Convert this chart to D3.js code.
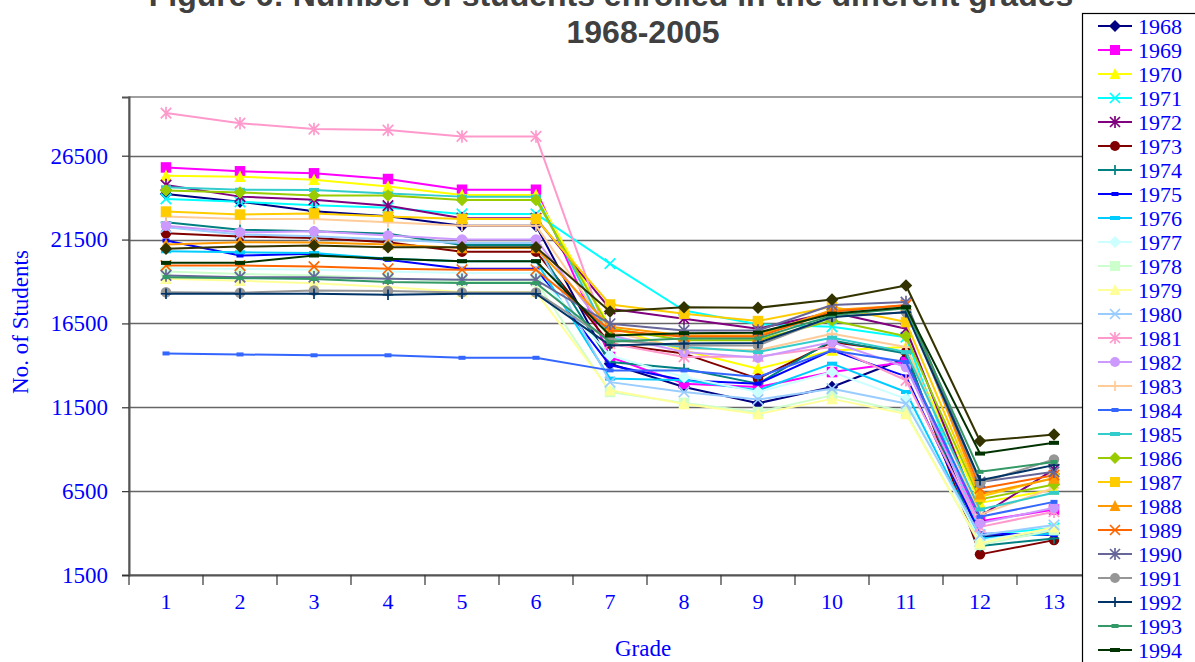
<!DOCTYPE html>
<html><head><meta charset="utf-8">
<script src="https://cdn.jsdelivr.net/npm/d3@7"></script>
<style>
html,body{margin:0;padding:0;background:#fff;overflow:hidden;}
svg{display:block;}
</style></head>
<body>
<svg id="chart" width="1195" height="662"></svg>
<script>
const titleLine1 = "Figure 6: Number of students enrolled in the different grades";
const titleLine2 = "1968-2005";
const grades = [1,2,3,4,5,6,7,8,9,10,11,12,13];
const yTicks = [1500, 6500, 11500, 16500, 21500, 26500];
const years = [1968,1969,1970,1971,1972,1973,1974,1975,1976,1977,1978,1979,1980,1981,1982,1983,1984,1985,1986,1987,1988,1989,1990,1991,1992,1993,1994,1995];
const seriesColors = ["#000080","#FF00FF","#FFFF00","#00FFFF","#800080","#800000","#008080","#0000FF","#00CCFF","#CCFFFF","#CCFFCC","#FFFF99","#99CCFF","#FF99CC","#CC99FF","#FFCC99","#3366FF","#33CCCC","#99CC00","#FFCC00","#FF9900","#FF6600","#666699","#969696","#003366","#339966","#003300","#333300"];
const markerCycle = ["diamond","square","triangle","x","star","circle","plus","dashS","dashL"];

const v1968 = [24220,23760,23190,22890,22330,22330,14100,12710,11740,12710,14420,3780,4000];
const v1969 = [25800,25570,25450,25110,24470,24470,14500,12910,12710,13600,14200,4700,5400];
const v1970 = [25310,25250,25070,24670,24160,24160,16280,14890,13800,14890,15090,5800,6600];
const v1971 = [23920,23750,23550,23400,23030,23030,20070,17270,16450,16300,15680,3900,4300];
const v1972 = [24750,24060,23880,23520,22770,22770,17370,16780,16180,17170,16180,5000,7800];
const v1973 = [21880,21680,21600,21340,20780,20780,15290,14700,13210,15390,14790,2730,3580];
const v1974 = [22530,22080,22000,21840,21180,21180,14200,13800,12910,15490,14700,3230,3680];
const v1975 = [21440,20550,20650,20290,19760,19760,14000,13110,12910,14890,13340,3980,3880];
const v1976 = [20800,20740,20700,20350,20210,20210,13210,13110,12510,14100,12410,3680,3980];
const v1977 = [19800,19750,19700,19600,19500,19500,14590,13300,12410,13600,12000,3550,4250];
const v1978 = [19600,19450,19350,19200,19000,19000,12410,11760,11220,12210,11220,3300,4180];
const v1979 = [19160,19050,18900,18670,18370,18370,12510,11700,11100,12000,11100,3400,4350];
const v1980 = [22230,21800,21700,21500,21300,21300,13000,12410,11960,12610,11720,3880,4480];
const v1981 = [29040,28440,28090,28030,27650,27650,15300,14500,14530,15090,13110,4370,5270];
const v1982 = [22330,21930,21990,21740,21500,21500,15800,14800,14460,15390,13900,4580,5510];
const v1983 = [22870,22730,22730,22530,22330,22330,16000,15000,14900,15890,15090,5100,6700];
const v1984 = [14710,14650,14600,14600,14450,14450,13700,13700,13300,14890,14200,4970,5860];
const v1985 = [24620,24470,24460,24250,24060,24060,15600,15100,14790,15650,14790,5410,6400];
const v1986 = [24420,24310,24120,24120,23860,23860,16200,15500,15500,16680,15730,6010,6900];
const v1987 = [23170,22990,23060,22870,22730,22730,17630,17080,16640,17500,16580,6160,7300];
const v1988 = [21200,21340,21320,21200,21000,21000,16300,15780,15800,17300,17570,6320,7260];
const v1989 = [19950,19950,19890,19760,19700,19700,16100,15700,15700,17200,17600,6660,7450];
const v1990 = [19360,19260,19260,19160,19100,19100,16480,16080,16080,17600,17770,7040,7650];
const v1991 = [18360,18330,18460,18430,18350,18350,15490,15190,15190,16900,17170,6990,8390];
const v1992 = [18270,18270,18270,18210,18270,18270,15190,15300,15330,16880,17170,7150,8050];
const v1993 = [19260,19200,19150,18970,18910,18910,15400,15600,15600,16980,17400,7650,8240];
const v1994 = [20110,20110,20550,20350,20210,20210,15780,15920,15950,17080,17470,8740,9380];
const v1995 = [20950,21080,21140,21040,21040,21040,17210,17470,17430,17930,18760,9490,9870];

const seriesValues = [v1968,v1969,v1970,v1971,v1972,v1973,v1974,v1975,v1976,v1977,v1978,v1979,v1980,v1981,v1982,v1983,v1984,v1985,v1986,v1987,v1988,v1989,v1990,v1991,v1992,v1993,v1994,v1995];

const series = years.map((y,i)=>({year:y, color:seriesColors[i], marker:markerCycle[i%markerCycle.length], values:seriesValues[i]}));

const svg = d3.select("#chart");
const plot = {left:129, right:1091, top:97, bottom:575};

const x = d3.scaleBand().domain(grades).range([plot.left, plot.right]);
const xc = g => x(g) + x.bandwidth()/2;
const y = d3.scaleLinear().domain([1500, 30000]).range([plot.bottom, plot.top]);

const serif = "'Liberation Serif','Times New Roman',Times,serif";
const sans = "'Liberation Sans',Arial,Helvetica,sans-serif";

// plot area border
svg.append("rect").attr("x",plot.left).attr("y",plot.top)
  .attr("width",plot.right-plot.left).attr("height",plot.bottom-plot.top)
  .attr("fill","none").attr("stroke","#808080").attr("stroke-width",1.5);

// gridlines
svg.append("g").selectAll("line").data(yTicks.filter(t=>t>1500)).join("line")
  .attr("x1",plot.left).attr("x2",plot.right)
  .attr("y1",d=>Math.round(y(d))+0.5).attr("y2",d=>Math.round(y(d))+0.5)
  .attr("stroke","#666").attr("stroke-width",1.7);

// y axis
const yAxis = d3.axisLeft(y).tickValues(yTicks).tickSize(7).tickPadding(14).tickFormat(d3.format("d"));
const gy = svg.append("g").attr("transform",`translate(${plot.left},0)`).call(yAxis);
gy.select(".domain").attr("stroke","#555").attr("stroke-width",2);
gy.selectAll(".tick line").attr("stroke","#333").attr("stroke-width",1.2);
gy.selectAll(".tick text").attr("fill","#0000FF").style("font-family",serif).style("font-size","23px");

// x axis
const xAxis = d3.axisBottom(x).tickSize(0).tickPadding(18);
const gx = svg.append("g").attr("transform",`translate(0,${plot.bottom})`).call(xAxis);
gx.select(".domain").attr("stroke","#555").attr("stroke-width",2);
gx.selectAll(".tick text").attr("fill","#0000FF").style("font-family",serif).style("font-size","22px");
gx.append("g").selectAll("line").data(d3.range(grades.length+1)).join("line")
  .attr("x1",i=>plot.left + i*x.step()).attr("x2",i=>plot.left + i*x.step())
  .attr("y1",0).attr("y2",10).attr("stroke","#333").attr("stroke-width",1.2);

// lines
const line = d3.line().x((d,i)=>xc(grades[i])).y(d=>y(d));
const gSeries = svg.append("g");

function drawMarker(g, type, color, cx, cy, s){
  const r = s/2;
  switch(type){
    case "diamond":
      g.append("path").attr("d",`M${cx},${cy-r-1}L${cx+r+1},${cy}L${cx},${cy+r+1}L${cx-r-1},${cy}Z`).attr("fill",color); break;
    case "square":
      g.append("rect").attr("x",cx-r).attr("y",cy-r).attr("width",s).attr("height",s).attr("fill",color); break;
    case "triangle":
      g.append("path").attr("d",`M${cx},${cy-r-1}L${cx+r+0.5},${cy+r}L${cx-r-0.5},${cy+r}Z`).attr("fill",color); break;
    case "x":
      g.append("path").attr("d",`M${cx-r},${cy-r}L${cx+r},${cy+r}M${cx-r},${cy+r}L${cx+r},${cy-r}`).attr("stroke",color).attr("stroke-width",1.7).attr("fill","none"); break;
    case "star":
      g.append("path").attr("d",`M${cx-r},${cy-r}L${cx+r},${cy+r}M${cx-r},${cy+r}L${cx+r},${cy-r}M${cx},${cy-r-1}L${cx},${cy+r+1}`).attr("stroke",color).attr("stroke-width",1.7).attr("fill","none"); break;
    case "circle":
      g.append("circle").attr("cx",cx).attr("cy",cy).attr("r",r).attr("fill",color); break;
    case "plus":
      g.append("path").attr("d",`M${cx-r},${cy}L${cx+r},${cy}M${cx},${cy-r}L${cx},${cy+r}`).attr("stroke",color).attr("stroke-width",1.7).attr("fill","none"); break;
    case "dashS":
      g.append("rect").attr("x",cx-3.5).attr("y",cy-2).attr("width",7).attr("height",4).attr("fill",color); break;
    case "dashL":
      g.append("rect").attr("x",cx-5).attr("y",cy-2).attr("width",10).attr("height",4).attr("fill",color); break;
  }
}

series.forEach(s=>{
  const g = gSeries.append("g");
  g.append("path").datum(s.values).attr("d",line).attr("fill","none")
    .attr("stroke",s.color).attr("stroke-width",2).attr("stroke-linejoin","round");
  s.values.forEach((v,i)=>drawMarker(g, s.marker, s.color, xc(grades[i]), y(v), 10.5));
});

// titles
svg.append("text").attr("x",611).attr("y",6).attr("text-anchor","middle")
  .style("font-family",sans).style("font-weight","bold").style("font-size","32px").attr("fill","#404040")
  .text(titleLine1);
svg.append("text").attr("x",643).attr("y",43).attr("text-anchor","middle")
  .style("font-family",sans).style("font-weight","bold").style("font-size","32px").attr("fill","#404040")
  .text(titleLine2);

// axis titles
svg.append("text").attr("transform","translate(28,322) rotate(-90)").attr("text-anchor","middle")
  .style("font-family",serif).style("font-size","23px").attr("fill","#0000FF").text("No. of Students");
svg.append("text").attr("x",643).attr("y",656).attr("text-anchor","middle")
  .style("font-family",serif).style("font-size","23px").attr("fill","#0000FF").text("Grade");

// legend
const lg = svg.append("g");
const legTop = 13, legLeft = 1082, legStep = 24;
lg.append("rect").attr("x",legLeft+0.5).attr("y",legTop+0.5).attr("width",130).attr("height",legStep*series.length+10)
  .attr("fill","#fff").attr("stroke","#000").attr("stroke-width",1.2);
series.forEach((s,i)=>{
  const cy = legTop + 13 + i*legStep;
  const g = lg.append("g");
  g.append("line").attr("x1",1098).attr("x2",1132).attr("y1",cy).attr("y2",cy).attr("stroke",s.color).attr("stroke-width",2);
  drawMarker(g, s.marker, s.color, 1115, cy, 10);
  g.append("text").attr("x",1138).attr("y",cy+7.5).style("font-family",serif).style("font-size","22px")
    .attr("fill","#0000FF").text(s.year);
});
</script>
</body></html>
